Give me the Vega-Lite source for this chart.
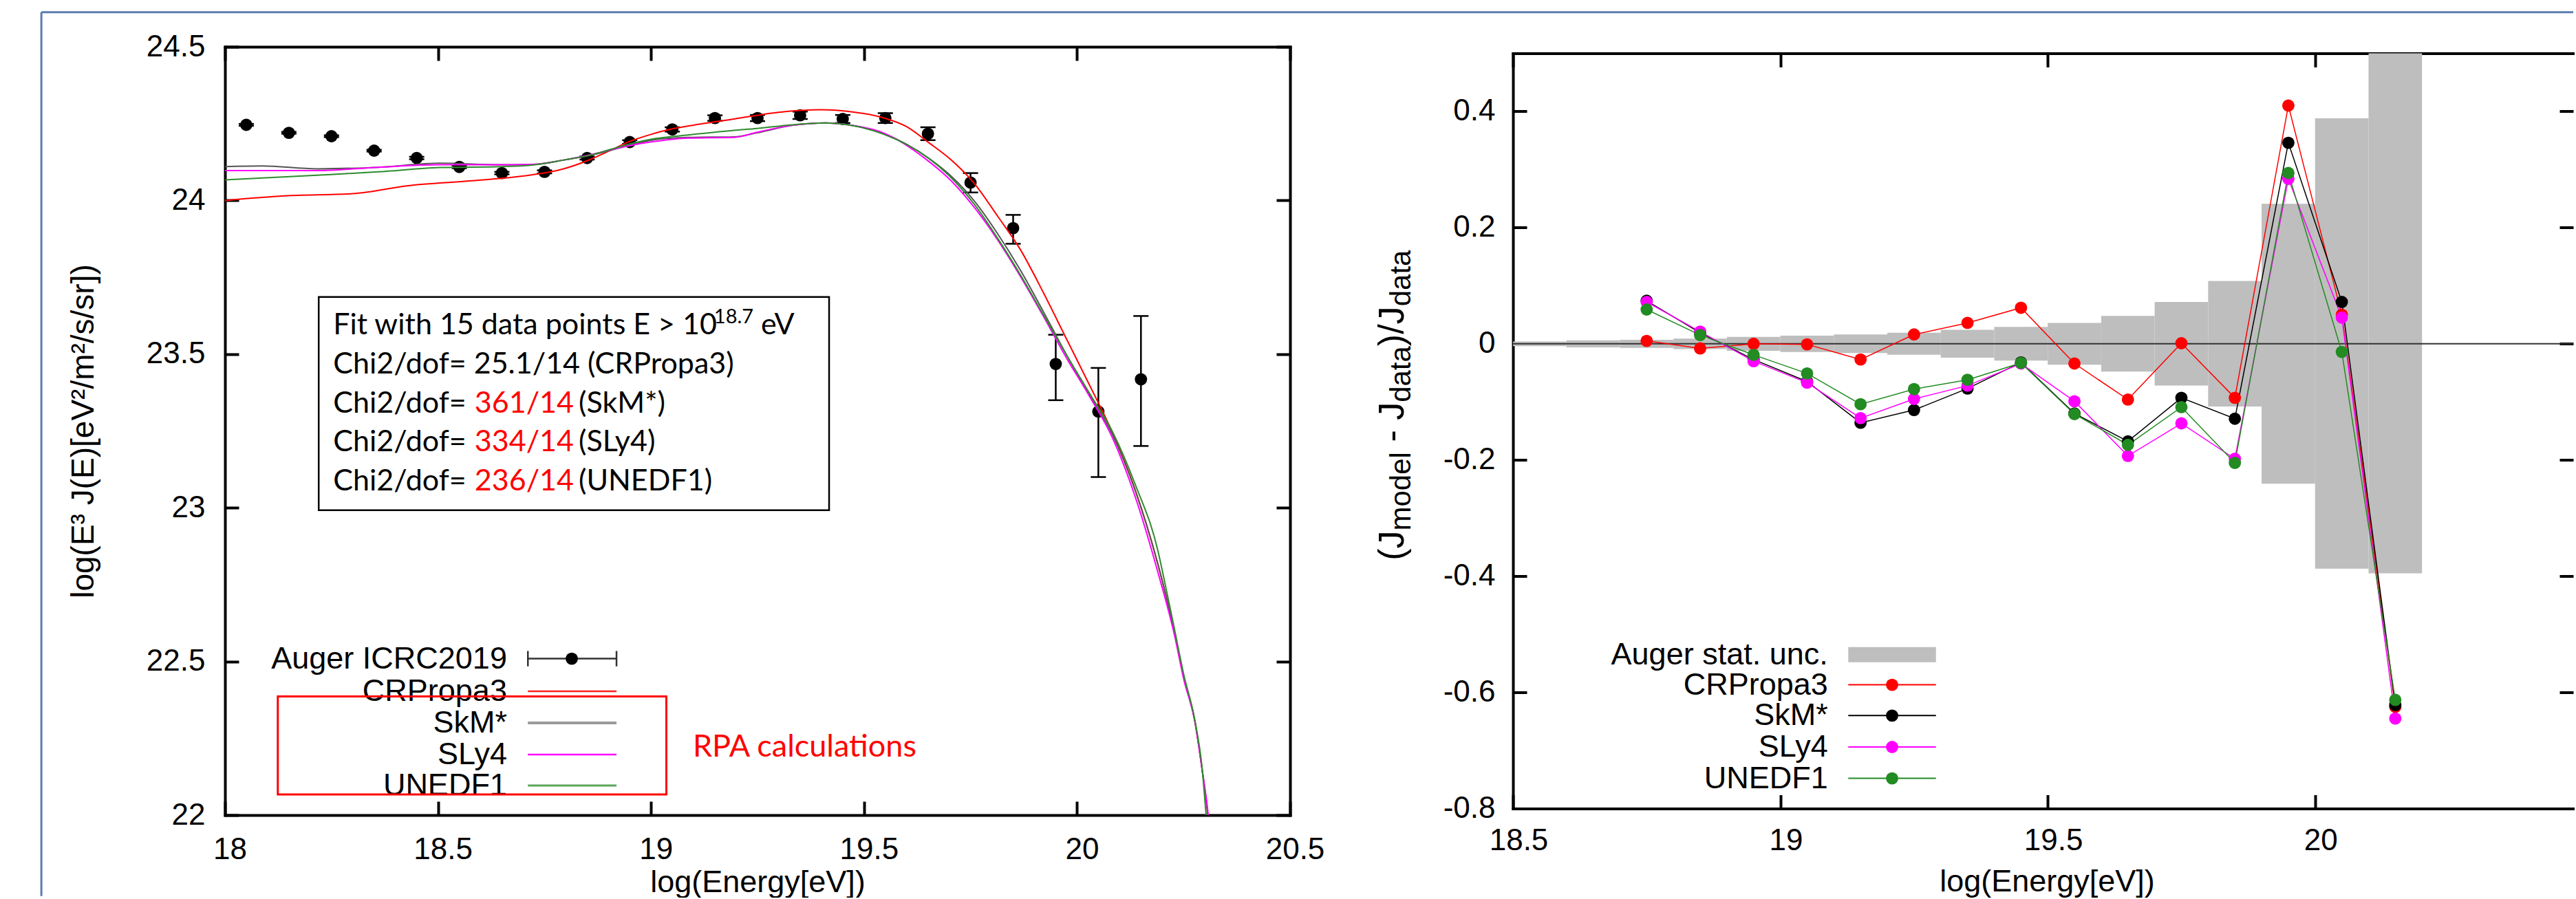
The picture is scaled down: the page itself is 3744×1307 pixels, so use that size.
{
 "$schema": "https://vega.github.io/schema/vega-lite/v6.json",
 "background": "white",
 "padding": {"left": 58, "top": 16, "right": 0, "bottom": 0},
 "bounds": "flush",
 "spacing": 324,
 "center": true,
 "resolve": {"scale": {"color": "independent"}},
 "config": {
  "font": "Liberation Sans",
  "view": {"stroke": null},
  "axis": {"grid": false, "domainColor": "black", "domainWidth": 4, "domainCap": "square", "tickColor": "black", "tickWidth": 4, "tickSize": -20, "labelFont": "Liberation Sans", "labelFontSize": 44, "labelColor": "black", "labelFlush": false, "labelOverlap": false, "labelBound": false, "titleFont": "Liberation Sans", "titleFontSize": 45, "titleFontWeight": "normal", "titleColor": "black"}
 },
 "datasets": {
  "auger": [
   {"e": 18.05, "f": 24.246, "lo": 24.243, "hi": 24.249},
   {"e": 18.15, "f": 24.220, "lo": 24.217, "hi": 24.223},
   {"e": 18.25, "f": 24.209, "lo": 24.206, "hi": 24.212},
   {"e": 18.35, "f": 24.162, "lo": 24.159, "hi": 24.165},
   {"e": 18.45, "f": 24.138, "lo": 24.134, "hi": 24.142},
   {"e": 18.55, "f": 24.109, "lo": 24.105, "hi": 24.113},
   {"e": 18.65, "f": 24.089, "lo": 24.085, "hi": 24.093},
   {"e": 18.75, "f": 24.093, "lo": 24.088, "hi": 24.098},
   {"e": 18.85, "f": 24.138, "lo": 24.133, "hi": 24.143},
   {"e": 18.95, "f": 24.190, "lo": 24.184, "hi": 24.196},
   {"e": 19.05, "f": 24.231, "lo": 24.224, "hi": 24.238},
   {"e": 19.15, "f": 24.268, "lo": 24.259, "hi": 24.277},
   {"e": 19.25, "f": 24.268, "lo": 24.258, "hi": 24.278},
   {"e": 19.35, "f": 24.277, "lo": 24.265, "hi": 24.289},
   {"e": 19.45, "f": 24.265, "lo": 24.252, "hi": 24.278},
   {"e": 19.55, "f": 24.268, "lo": 24.252, "hi": 24.284},
   {"e": 19.65, "f": 24.217, "lo": 24.196, "hi": 24.238},
   {"e": 19.75, "f": 24.058, "lo": 24.026, "hi": 24.089},
   {"e": 19.85, "f": 23.910, "lo": 23.859, "hi": 23.953},
   {"e": 19.95, "f": 23.468, "lo": 23.350, "hi": 23.563},
   {"e": 20.05, "f": 23.313, "lo": 23.100, "hi": 23.455},
   {"e": 20.15, "f": 23.418, "lo": 23.201, "hi": 23.624}
  ],
  "curves": [
   {"model": "CRPropa3", "e": 18.00, "f": 24.000},
   {"model": "CRPropa3", "e": 18.14, "f": 24.015},
   {"model": "CRPropa3", "e": 18.30, "f": 24.022},
   {"model": "CRPropa3", "e": 18.43, "f": 24.048},
   {"model": "CRPropa3", "e": 18.58, "f": 24.064},
   {"model": "CRPropa3", "e": 18.72, "f": 24.083},
   {"model": "CRPropa3", "e": 18.79, "f": 24.101},
   {"model": "CRPropa3", "e": 18.85, "f": 24.129},
   {"model": "CRPropa3", "e": 18.90, "f": 24.160},
   {"model": "CRPropa3", "e": 18.95, "f": 24.192},
   {"model": "CRPropa3", "e": 19.00, "f": 24.215},
   {"model": "CRPropa3", "e": 19.05, "f": 24.233},
   {"model": "CRPropa3", "e": 19.10, "f": 24.245},
   {"model": "CRPropa3", "e": 19.195, "f": 24.265},
   {"model": "CRPropa3", "e": 19.30, "f": 24.287},
   {"model": "CRPropa3", "e": 19.40, "f": 24.295},
   {"model": "CRPropa3", "e": 19.46, "f": 24.290},
   {"model": "CRPropa3", "e": 19.545, "f": 24.269},
   {"model": "CRPropa3", "e": 19.60, "f": 24.240},
   {"model": "CRPropa3", "e": 19.652, "f": 24.188},
   {"model": "CRPropa3", "e": 19.706, "f": 24.130},
   {"model": "CRPropa3", "e": 19.759, "f": 24.055},
   {"model": "CRPropa3", "e": 19.813, "f": 23.950},
   {"model": "CRPropa3", "e": 19.867, "f": 23.840},
   {"model": "CRPropa3", "e": 19.921, "f": 23.700},
   {"model": "CRPropa3", "e": 19.975, "f": 23.550},
   {"model": "CRPropa3", "e": 20.029, "f": 23.400},
   {"model": "CRPropa3", "e": 20.083, "f": 23.245},
   {"model": "CRPropa3", "e": 20.136, "f": 23.060},
   {"model": "CRPropa3", "e": 20.19, "f": 22.815},
   {"model": "CRPropa3", "e": 20.228, "f": 22.600},
   {"model": "CRPropa3", "e": 20.25, "f": 22.452},
   {"model": "CRPropa3", "e": 20.277, "f": 22.303},
   {"model": "CRPropa3", "e": 20.293, "f": 22.154},
   {"model": "CRPropa3", "e": 20.307, "f": 22.0},
   {"model": "CRPropa3", "e": 20.32, "f": 21.8},
   {"model": "SkM*", "e": 18.00, "f": 24.110},
   {"model": "SkM*", "e": 18.087, "f": 24.112},
   {"model": "SkM*", "e": 18.216, "f": 24.103},
   {"model": "SkM*", "e": 18.36, "f": 24.108},
   {"model": "SkM*", "e": 18.505, "f": 24.121},
   {"model": "SkM*", "e": 18.649, "f": 24.116},
   {"model": "SkM*", "e": 18.721, "f": 24.117},
   {"model": "SkM*", "e": 18.793, "f": 24.131},
   {"model": "SkM*", "e": 18.865, "f": 24.149},
   {"model": "SkM*", "e": 18.937, "f": 24.175},
   {"model": "SkM*", "e": 19.009, "f": 24.198},
   {"model": "SkM*", "e": 19.087, "f": 24.205},
   {"model": "SkM*", "e": 19.195, "f": 24.207},
   {"model": "SkM*", "e": 19.249, "f": 24.220},
   {"model": "SkM*", "e": 19.33, "f": 24.244},
   {"model": "SkM*", "e": 19.41, "f": 24.252},
   {"model": "SkM*", "e": 19.464, "f": 24.246},
   {"model": "SkM*", "e": 19.545, "f": 24.218},
   {"model": "SkM*", "e": 19.652, "f": 24.137},
   {"model": "SkM*", "e": 19.706, "f": 24.077},
   {"model": "SkM*", "e": 19.759, "f": 23.998},
   {"model": "SkM*", "e": 19.813, "f": 23.893},
   {"model": "SkM*", "e": 19.867, "f": 23.773},
   {"model": "SkM*", "e": 19.921, "f": 23.638},
   {"model": "SkM*", "e": 19.975, "f": 23.498},
   {"model": "SkM*", "e": 20.029, "f": 23.368},
   {"model": "SkM*", "e": 20.083, "f": 23.238},
   {"model": "SkM*", "e": 20.136, "f": 23.058},
   {"model": "SkM*", "e": 20.19, "f": 22.815},
   {"model": "SkM*", "e": 20.228, "f": 22.600},
   {"model": "SkM*", "e": 20.25, "f": 22.452},
   {"model": "SkM*", "e": 20.277, "f": 22.303},
   {"model": "SkM*", "e": 20.293, "f": 22.154},
   {"model": "SkM*", "e": 20.307, "f": 22.0},
   {"model": "SkM*", "e": 20.32, "f": 21.8},
   {"model": "SLy4", "e": 18.00, "f": 24.097},
   {"model": "SLy4", "e": 18.216, "f": 24.097},
   {"model": "SLy4", "e": 18.36, "f": 24.108},
   {"model": "SLy4", "e": 18.505, "f": 24.116},
   {"model": "SLy4", "e": 18.649, "f": 24.116},
   {"model": "SLy4", "e": 18.721, "f": 24.117},
   {"model": "SLy4", "e": 18.793, "f": 24.131},
   {"model": "SLy4", "e": 18.865, "f": 24.151},
   {"model": "SLy4", "e": 18.937, "f": 24.175},
   {"model": "SLy4", "e": 19.009, "f": 24.192},
   {"model": "SLy4", "e": 19.087, "f": 24.203},
   {"model": "SLy4", "e": 19.195, "f": 24.205},
   {"model": "SLy4", "e": 19.249, "f": 24.222},
   {"model": "SLy4", "e": 19.33, "f": 24.244},
   {"model": "SLy4", "e": 19.41, "f": 24.252},
   {"model": "SLy4", "e": 19.464, "f": 24.246},
   {"model": "SLy4", "e": 19.545, "f": 24.220},
   {"model": "SLy4", "e": 19.652, "f": 24.127},
   {"model": "SLy4", "e": 19.706, "f": 24.062},
   {"model": "SLy4", "e": 19.759, "f": 23.977},
   {"model": "SLy4", "e": 19.813, "f": 23.873},
   {"model": "SLy4", "e": 19.867, "f": 23.753},
   {"model": "SLy4", "e": 19.921, "f": 23.623},
   {"model": "SLy4", "e": 19.975, "f": 23.488},
   {"model": "SLy4", "e": 20.029, "f": 23.363},
   {"model": "SLy4", "e": 20.083, "f": 23.228},
   {"model": "SLy4", "e": 20.136, "f": 23.038},
   {"model": "SLy4", "e": 20.19, "f": 22.789},
   {"model": "SLy4", "e": 20.228, "f": 22.590},
   {"model": "SLy4", "e": 20.25, "f": 22.445},
   {"model": "SLy4", "e": 20.277, "f": 22.300},
   {"model": "SLy4", "e": 20.293, "f": 22.154},
   {"model": "SLy4", "e": 20.308, "f": 22.0},
   {"model": "SLy4", "e": 20.32, "f": 21.8},
   {"model": "UNEDF1", "e": 18.00, "f": 24.067},
   {"model": "UNEDF1", "e": 18.216, "f": 24.082},
   {"model": "UNEDF1", "e": 18.36, "f": 24.093},
   {"model": "UNEDF1", "e": 18.505, "f": 24.107},
   {"model": "UNEDF1", "e": 18.649, "f": 24.110},
   {"model": "UNEDF1", "e": 18.721, "f": 24.115},
   {"model": "UNEDF1", "e": 18.793, "f": 24.131},
   {"model": "UNEDF1", "e": 18.865, "f": 24.150},
   {"model": "UNEDF1", "e": 18.937, "f": 24.179},
   {"model": "UNEDF1", "e": 19.009, "f": 24.201},
   {"model": "UNEDF1", "e": 19.087, "f": 24.213},
   {"model": "UNEDF1", "e": 19.195, "f": 24.228},
   {"model": "UNEDF1", "e": 19.249, "f": 24.234},
   {"model": "UNEDF1", "e": 19.33, "f": 24.246},
   {"model": "UNEDF1", "e": 19.41, "f": 24.252},
   {"model": "UNEDF1", "e": 19.464, "f": 24.246},
   {"model": "UNEDF1", "e": 19.545, "f": 24.216},
   {"model": "UNEDF1", "e": 19.652, "f": 24.137},
   {"model": "UNEDF1", "e": 19.706, "f": 24.072},
   {"model": "UNEDF1", "e": 19.759, "f": 23.987},
   {"model": "UNEDF1", "e": 19.813, "f": 23.878},
   {"model": "UNEDF1", "e": 19.867, "f": 23.758},
   {"model": "UNEDF1", "e": 19.921, "f": 23.628},
   {"model": "UNEDF1", "e": 19.975, "f": 23.498},
   {"model": "UNEDF1", "e": 20.029, "f": 23.373},
   {"model": "UNEDF1", "e": 20.083, "f": 23.248},
   {"model": "UNEDF1", "e": 20.136, "f": 23.078},
   {"model": "UNEDF1", "e": 20.19, "f": 22.859},
   {"model": "UNEDF1", "e": 20.207, "f": 22.750},
   {"model": "UNEDF1", "e": 20.228, "f": 22.610},
   {"model": "UNEDF1", "e": 20.25, "f": 22.460},
   {"model": "UNEDF1", "e": 20.277, "f": 22.305},
   {"model": "UNEDF1", "e": 20.293, "f": 22.160},
   {"model": "UNEDF1", "e": 20.303, "f": 22.0},
   {"model": "UNEDF1", "e": 20.32, "f": 21.75}
  ],
  "ratio": [
   {"model": "CRPropa3", "e": 18.75, "r": 0.005}, {"model": "CRPropa3", "e": 18.85, "r": -0.008}, {"model": "CRPropa3", "e": 18.95, "r": 0.0}, {"model": "CRPropa3", "e": 19.05, "r": -0.001}, {"model": "CRPropa3", "e": 19.15, "r": -0.027}, {"model": "CRPropa3", "e": 19.25, "r": 0.016}, {"model": "CRPropa3", "e": 19.35, "r": 0.036}, {"model": "CRPropa3", "e": 19.45, "r": 0.062}, {"model": "CRPropa3", "e": 19.55, "r": -0.034}, {"model": "CRPropa3", "e": 19.65, "r": -0.096}, {"model": "CRPropa3", "e": 19.75, "r": 0.001}, {"model": "CRPropa3", "e": 19.85, "r": -0.093}, {"model": "CRPropa3", "e": 19.95, "r": 0.410}, {"model": "CRPropa3", "e": 20.05, "r": 0.050}, {"model": "CRPropa3", "e": 20.15, "r": -0.625},
   {"model": "SkM*", "e": 18.75, "r": 0.074}, {"model": "SkM*", "e": 18.85, "r": 0.019}, {"model": "SkM*", "e": 18.95, "r": -0.027}, {"model": "SkM*", "e": 19.05, "r": -0.065}, {"model": "SkM*", "e": 19.15, "r": -0.136}, {"model": "SkM*", "e": 19.25, "r": -0.114}, {"model": "SkM*", "e": 19.35, "r": -0.077}, {"model": "SkM*", "e": 19.45, "r": -0.032}, {"model": "SkM*", "e": 19.55, "r": -0.120}, {"model": "SkM*", "e": 19.65, "r": -0.168}, {"model": "SkM*", "e": 19.75, "r": -0.093}, {"model": "SkM*", "e": 19.85, "r": -0.129}, {"model": "SkM*", "e": 19.95, "r": 0.346}, {"model": "SkM*", "e": 20.05, "r": 0.072}, {"model": "SkM*", "e": 20.15, "r": -0.622},
   {"model": "SLy4", "e": 18.75, "r": 0.072}, {"model": "SLy4", "e": 18.85, "r": 0.021}, {"model": "SLy4", "e": 18.95, "r": -0.030}, {"model": "SLy4", "e": 19.05, "r": -0.067}, {"model": "SLy4", "e": 19.15, "r": -0.128}, {"model": "SLy4", "e": 19.25, "r": -0.095}, {"model": "SLy4", "e": 19.35, "r": -0.072}, {"model": "SLy4", "e": 19.45, "r": -0.034}, {"model": "SLy4", "e": 19.55, "r": -0.099}, {"model": "SLy4", "e": 19.65, "r": -0.193}, {"model": "SLy4", "e": 19.75, "r": -0.137}, {"model": "SLy4", "e": 19.85, "r": -0.198}, {"model": "SLy4", "e": 19.95, "r": 0.284}, {"model": "SLy4", "e": 20.05, "r": 0.045}, {"model": "SLy4", "e": 20.15, "r": -0.645},
   {"model": "UNEDF1", "e": 18.75, "r": 0.059}, {"model": "UNEDF1", "e": 18.85, "r": 0.015}, {"model": "UNEDF1", "e": 18.95, "r": -0.019}, {"model": "UNEDF1", "e": 19.05, "r": -0.051}, {"model": "UNEDF1", "e": 19.15, "r": -0.104}, {"model": "UNEDF1", "e": 19.25, "r": -0.078}, {"model": "UNEDF1", "e": 19.35, "r": -0.062}, {"model": "UNEDF1", "e": 19.45, "r": -0.033}, {"model": "UNEDF1", "e": 19.55, "r": -0.121}, {"model": "UNEDF1", "e": 19.65, "r": -0.174}, {"model": "UNEDF1", "e": 19.75, "r": -0.109}, {"model": "UNEDF1", "e": 19.85, "r": -0.205}, {"model": "UNEDF1", "e": 19.95, "r": 0.294}, {"model": "UNEDF1", "e": 20.05, "r": -0.014}, {"model": "UNEDF1", "e": 20.15, "r": -0.613}
  ],
  "band": [
   {"x0": 18.5, "x1": 18.6, "lo": -0.004, "hi": 0.004},
   {"x0": 18.6, "x1": 18.7, "lo": -0.006, "hi": 0.006},
   {"x0": 18.7, "x1": 18.8, "lo": -0.007, "hi": 0.007},
   {"x0": 18.8, "x1": 18.9, "lo": -0.009, "hi": 0.009},
   {"x0": 18.9, "x1": 19.0, "lo": -0.012, "hi": 0.012},
   {"x0": 19.0, "x1": 19.1, "lo": -0.014, "hi": 0.014},
   {"x0": 19.1, "x1": 19.2, "lo": -0.016, "hi": 0.016},
   {"x0": 19.2, "x1": 19.3, "lo": -0.019, "hi": 0.019},
   {"x0": 19.3, "x1": 19.4, "lo": -0.024, "hi": 0.024},
   {"x0": 19.4, "x1": 19.5, "lo": -0.029, "hi": 0.029},
   {"x0": 19.5, "x1": 19.6, "lo": -0.036, "hi": 0.036},
   {"x0": 19.6, "x1": 19.7, "lo": -0.048, "hi": 0.048},
   {"x0": 19.7, "x1": 19.8, "lo": -0.072, "hi": 0.072},
   {"x0": 19.8, "x1": 19.9, "lo": -0.108, "hi": 0.108},
   {"x0": 19.9, "x1": 20.0, "lo": -0.241, "hi": 0.241},
   {"x0": 20.0, "x1": 20.1, "lo": -0.387, "hi": 0.388},
   {"x0": 20.1, "x1": 20.2, "lo": -0.395, "hi": 0.65}
  ]
 },
 "hconcat": [
  {
   "width": 1548,
   "height": 1117,
   "data": {"values": [{}]},
   "layer": [
    {"mark": {"type": "rule", "color": "#5b7db1", "strokeWidth": 3}, "encoding": {"x": {"datum": 17.569, "axis": null}, "y": {"datum": 24.6126, "axis": null}, "y2": {"datum": 21.7366}}},
    {"mark": {"type": "rule", "color": "#5b7db1", "strokeWidth": 3}, "encoding": {"x": {"datum": 17.569, "axis": null}, "x2": {"datum": 23.512}, "y": {"datum": 24.6126, "axis": null}}},
    {
     "data": {"name": "auger"},
     "mark": {"type": "circle", "size": 320, "color": "black", "opacity": 1},
     "encoding": {
      "x": {"field": "e", "type": "quantitative", "scale": {"domain": [18, 20.5], "nice": false, "zero": false},
            "axis": {"orient": "bottom", "values": [18, 18.5, 19, 19.5, 20, 20.5], "labelExpr": "'' + datum.value", "labelPadding": 48, "labelOffset": 7, "title": "log(Energy[eV])", "titleX": 774, "titleY": 75, "titleBaseline": "top", "titleAlign": "center", "titleAnchor": null}},
      "y": {"field": "f", "type": "quantitative", "scale": {"domain": [22, 24.5], "nice": false, "zero": false},
            "axis": {"orient": "left", "values": [22, 22.5, 23, 23.5, 24, 24.5], "labelExpr": "'' + datum.value", "labelPadding": 49, "title": "log(E³ J(E)[eV²/m²/s/sr])", "titleFontSize": 46, "titleX": -182, "titleY": 558.5, "titleAlign": "center", "titleAnchor": null}}
     }
    },
    {
     "data": {"name": "auger"},
     "mark": {"type": "rule", "color": "black", "strokeWidth": 2.5},
     "encoding": {
      "x": {"field": "e", "type": "quantitative", "axis": {"orient": "top", "values": [18, 18.5, 19, 19.5, 20, 20.5], "labels": false, "title": null}},
      "y": {"field": "lo", "type": "quantitative", "axis": {"orient": "right", "values": [22, 22.5, 23, 23.5, 24, 24.5], "labels": false, "title": null}},
      "y2": {"field": "hi"}
     }
    },
    {"data": {"name": "auger"}, "mark": {"type": "tick", "orient": "horizontal", "size": 22, "thickness": 2.5, "color": "black", "opacity": 1}, "encoding": {"x": {"field": "e", "type": "quantitative", "axis": null}, "y": {"field": "lo", "type": "quantitative", "axis": null}}},
    {"data": {"name": "auger"}, "mark": {"type": "tick", "orient": "horizontal", "size": 22, "thickness": 2.5, "color": "black", "opacity": 1}, "encoding": {"x": {"field": "e", "type": "quantitative", "axis": null}, "y": {"field": "hi", "type": "quantitative", "axis": null}}},
    {
     "data": {"name": "curves"},
     "mark": {"type": "line", "strokeWidth": 2, "interpolate": "monotone", "clip": true},
     "encoding": {
      "x": {"field": "e", "type": "quantitative", "axis": null},
      "y": {"field": "f", "type": "quantitative", "axis": null},
      "color": {"field": "model", "type": "nominal", "scale": {"domain": ["CRPropa3", "SkM*", "SLy4", "UNEDF1"], "range": ["#ff0000", "#555555", "#ff00ff", "#2e8b2e"]}, "legend": null}
     }
    },
    {"mark": {"type": "rect", "fill": "white", "stroke": "black", "strokeWidth": 2.5}, "encoding": {"x": {"datum": 18.220, "axis": null}, "x2": {"datum": 19.418}, "y": {"datum": 23.686, "axis": null}, "y2": {"datum": 22.992}}},
    {"mark": {"type": "text", "text": "Fit with 15 data points E > 10", "align": "left", "baseline": "middle", "font": "Lato", "fontSize": 43, "color": "black"}, "encoding": {"x": {"datum": 18.254, "axis": null}, "y": {"datum": 23.594, "axis": null}}},
    {"mark": {"type": "text", "text": "18.7", "align": "left", "baseline": "middle", "font": "Lato", "fontSize": 29, "color": "black"}, "encoding": {"x": {"datum": 19.148, "axis": null}, "y": {"datum": 23.621, "axis": null}}},
    {"mark": {"type": "text", "text": "eV", "align": "left", "baseline": "middle", "font": "Lato", "fontSize": 43, "color": "black"}, "encoding": {"x": {"datum": 19.258, "axis": null}, "y": {"datum": 23.594, "axis": null}}},
    {"mark": {"type": "text", "text": "Chi2/dof= 25.1/14 (CRPropa3)", "align": "left", "baseline": "middle", "font": "Lato", "fontSize": 43, "color": "black"}, "encoding": {"x": {"datum": 18.254, "axis": null}, "y": {"datum": 23.466, "axis": null}}},
    {"mark": {"type": "text", "text": "Chi2/dof=", "align": "left", "baseline": "middle", "font": "Lato", "fontSize": 43, "color": "black"}, "encoding": {"x": {"datum": 18.254, "axis": null}, "y": {"datum": 23.339, "axis": null}}},
    {"mark": {"type": "text", "text": "361/14", "align": "left", "baseline": "middle", "font": "Lato", "fontSize": 43, "color": "#ff0000"}, "encoding": {"x": {"datum": 18.586, "axis": null}, "y": {"datum": 23.339, "axis": null}}},
    {"mark": {"type": "text", "text": "(SkM*)", "align": "left", "baseline": "middle", "font": "Lato", "fontSize": 43, "color": "black"}, "encoding": {"x": {"datum": 18.830, "axis": null}, "y": {"datum": 23.339, "axis": null}}},
    {"mark": {"type": "text", "text": "Chi2/dof=", "align": "left", "baseline": "middle", "font": "Lato", "fontSize": 43, "color": "black"}, "encoding": {"x": {"datum": 18.254, "axis": null}, "y": {"datum": 23.213, "axis": null}}},
    {"mark": {"type": "text", "text": "334/14", "align": "left", "baseline": "middle", "font": "Lato", "fontSize": 43, "color": "#ff0000"}, "encoding": {"x": {"datum": 18.586, "axis": null}, "y": {"datum": 23.213, "axis": null}}},
    {"mark": {"type": "text", "text": "(SLy4)", "align": "left", "baseline": "middle", "font": "Lato", "fontSize": 43, "color": "black"}, "encoding": {"x": {"datum": 18.830, "axis": null}, "y": {"datum": 23.213, "axis": null}}},
    {"mark": {"type": "text", "text": "Chi2/dof=", "align": "left", "baseline": "middle", "font": "Lato", "fontSize": 43, "color": "black"}, "encoding": {"x": {"datum": 18.254, "axis": null}, "y": {"datum": 23.086, "axis": null}}},
    {"mark": {"type": "text", "text": "236/14", "align": "left", "baseline": "middle", "font": "Lato", "fontSize": 43, "color": "#ff0000"}, "encoding": {"x": {"datum": 18.586, "axis": null}, "y": {"datum": 23.086, "axis": null}}},
    {"mark": {"type": "text", "text": "(UNEDF1)", "align": "left", "baseline": "middle", "font": "Lato", "fontSize": 43, "color": "black"}, "encoding": {"x": {"datum": 18.830, "axis": null}, "y": {"datum": 23.086, "axis": null}}},
    {"mark": {"type": "text", "text": "Auger ICRC2019", "align": "right", "baseline": "middle", "fontSize": 45, "color": "black"}, "encoding": {"x": {"datum": 18.662, "axis": null}, "y": {"datum": 22.509, "axis": null}}},
    {"mark": {"type": "text", "text": "CRPropa3", "align": "right", "baseline": "middle", "fontSize": 45, "color": "black"}, "encoding": {"x": {"datum": 18.662, "axis": null}, "y": {"datum": 22.403, "axis": null}}},
    {"mark": {"type": "text", "text": "SkM*", "align": "right", "baseline": "middle", "fontSize": 45, "color": "black"}, "encoding": {"x": {"datum": 18.662, "axis": null}, "y": {"datum": 22.300, "axis": null}}},
    {"mark": {"type": "text", "text": "SLy4", "align": "right", "baseline": "middle", "fontSize": 45, "color": "black"}, "encoding": {"x": {"datum": 18.662, "axis": null}, "y": {"datum": 22.197, "axis": null}}},
    {"mark": {"type": "text", "text": "UNEDF1", "align": "right", "baseline": "middle", "fontSize": 45, "color": "black"}, "encoding": {"x": {"datum": 18.662, "axis": null}, "y": {"datum": 22.096, "axis": null}}},
    {"mark": {"type": "rule", "color": "#333333", "strokeWidth": 2.5}, "encoding": {"x": {"datum": 18.711, "axis": null}, "x2": {"datum": 18.919}, "y": {"datum": 22.509, "axis": null}}},
    {"mark": {"type": "rule", "color": "#333333", "strokeWidth": 2.5}, "encoding": {"x": {"datum": 18.711, "axis": null}, "y": {"datum": 22.484, "axis": null}, "y2": {"datum": 22.534}}},
    {"mark": {"type": "rule", "color": "#333333", "strokeWidth": 2.5}, "encoding": {"x": {"datum": 18.919, "axis": null}, "y": {"datum": 22.484, "axis": null}, "y2": {"datum": 22.534}}},
    {"mark": {"type": "circle", "size": 320, "color": "black", "opacity": 1}, "encoding": {"x": {"datum": 18.814, "axis": null}, "y": {"datum": 22.509, "axis": null}}},
    {"mark": {"type": "rule", "color": "#ff2020", "strokeWidth": 2.5}, "encoding": {"x": {"datum": 18.711, "axis": null}, "x2": {"datum": 18.919}, "y": {"datum": 22.403, "axis": null}}},
    {"mark": {"type": "rule", "color": "#9a9a9a", "strokeWidth": 4}, "encoding": {"x": {"datum": 18.711, "axis": null}, "x2": {"datum": 18.919}, "y": {"datum": 22.300, "axis": null}}},
    {"mark": {"type": "rule", "color": "#ff00ff", "strokeWidth": 2.5}, "encoding": {"x": {"datum": 18.711, "axis": null}, "x2": {"datum": 18.919}, "y": {"datum": 22.197, "axis": null}}},
    {"mark": {"type": "rule", "color": "#5aa65a", "strokeWidth": 3}, "encoding": {"x": {"datum": 18.711, "axis": null}, "x2": {"datum": 18.919}, "y": {"datum": 22.096, "axis": null}}},
    {"mark": {"type": "rect", "filled": false, "color": "#ff0000", "strokeWidth": 3, "opacity": 1}, "encoding": {"x": {"datum": 18.124, "axis": null}, "x2": {"datum": 19.036}, "y": {"datum": 22.386, "axis": null}, "y2": {"datum": 22.067}}},
    {"mark": {"type": "text", "text": "RPA calculations", "align": "left", "baseline": "middle", "font": "Lato", "fontSize": 45, "color": "#ff0000"}, "encoding": {"x": {"datum": 19.098, "axis": null}, "y": {"datum": 22.222, "axis": null}}}
   ]
  },
  {
   "width": 1541,
   "height": 1098,
   "data": {"values": [{}]},
   "layer": [
    {
     "data": {"name": "band"},
     "mark": {"type": "rect", "color": "#bebebe", "opacity": 1, "clip": true},
     "encoding": {
      "x": {"field": "x0", "type": "quantitative", "scale": {"domain": [18.5, 20.4828], "nice": false, "zero": false},
            "axis": {"orient": "bottom", "values": [18.5, 19, 19.5, 20], "labelExpr": "'' + datum.value", "labelPadding": 45, "labelOffset": 8, "title": "log(Energy[eV])", "titleX": 776, "titleY": 84, "titleBaseline": "top", "titleAlign": "center", "titleAnchor": null}},
      "x2": {"field": "x1"},
      "y": {"field": "lo", "type": "quantitative", "scale": {"domain": [-0.8, 0.5], "nice": false, "zero": false},
            "axis": {"orient": "left", "values": [-0.8, -0.6, -0.4, -0.2, 0, 0.2, 0.4], "labelExpr": "'' + datum.value", "labelPadding": 46, "title": null}},
      "y2": {"field": "hi"}
     }
    },
    {"mark": {"type": "rule", "color": "#333333", "strokeWidth": 2}, "encoding": {"y": {"datum": 0, "axis": null}}},
    {
     "data": {"name": "ratio"},
     "mark": {"type": "line", "strokeWidth": 1.5, "clip": true},
     "encoding": {
      "x": {"field": "e", "type": "quantitative", "axis": {"orient": "top", "values": [18.5, 19, 19.5, 20], "labels": false, "title": null}},
      "y": {"field": "r", "type": "quantitative", "axis": {"orient": "right", "values": [-0.8, -0.6, -0.4, -0.2, 0, 0.2, 0.4], "labels": false, "domain": false, "title": null}},
      "color": {"field": "model", "type": "nominal", "scale": {"domain": ["CRPropa3", "SkM*", "SLy4", "UNEDF1"], "range": ["#ff0000", "#000000", "#ff00ff", "#228b22"]}, "legend": null}
     }
    },
    {
     "data": {"name": "ratio"},
     "mark": {"type": "circle", "size": 320, "opacity": 1},
     "encoding": {
      "x": {"field": "e", "type": "quantitative", "axis": null},
      "y": {"field": "r", "type": "quantitative", "axis": null},
      "color": {"field": "model", "type": "nominal", "scale": {"domain": ["CRPropa3", "SkM*", "SLy4", "UNEDF1"], "range": ["#ff0000", "#000000", "#ff00ff", "#228b22"]}, "legend": null}
     }
    },
    {"mark": {"type": "text", "text": "Auger stat. unc.", "align": "right", "baseline": "middle", "fontSize": 45, "color": "black"}, "encoding": {"x": {"datum": 19.089, "axis": null}, "y": {"datum": -0.535, "axis": null}}},
    {"mark": {"type": "text", "text": "CRPropa3", "align": "right", "baseline": "middle", "fontSize": 45, "color": "black"}, "encoding": {"x": {"datum": 19.089, "axis": null}, "y": {"datum": -0.587, "axis": null}}},
    {"mark": {"type": "text", "text": "SkM*", "align": "right", "baseline": "middle", "fontSize": 45, "color": "black"}, "encoding": {"x": {"datum": 19.089, "axis": null}, "y": {"datum": -0.640, "axis": null}}},
    {"mark": {"type": "text", "text": "SLy4", "align": "right", "baseline": "middle", "fontSize": 45, "color": "black"}, "encoding": {"x": {"datum": 19.089, "axis": null}, "y": {"datum": -0.694, "axis": null}}},
    {"mark": {"type": "text", "text": "UNEDF1", "align": "right", "baseline": "middle", "fontSize": 45, "color": "black"}, "encoding": {"x": {"datum": 19.089, "axis": null}, "y": {"datum": -0.748, "axis": null}}},
    {"mark": {"type": "rect", "color": "#bebebe", "opacity": 1}, "encoding": {"x": {"datum": 19.127, "axis": null}, "x2": {"datum": 19.291}, "y": {"datum": -0.522, "axis": null}, "y2": {"datum": -0.548}}},
    {"mark": {"type": "rule", "color": "#ff0000", "strokeWidth": 2}, "encoding": {"x": {"datum": 19.127, "axis": null}, "x2": {"datum": 19.291}, "y": {"datum": -0.587, "axis": null}}},
    {"mark": {"type": "rule", "color": "#000000", "strokeWidth": 2}, "encoding": {"x": {"datum": 19.127, "axis": null}, "x2": {"datum": 19.291}, "y": {"datum": -0.640, "axis": null}}},
    {"mark": {"type": "rule", "color": "#ff00ff", "strokeWidth": 2}, "encoding": {"x": {"datum": 19.127, "axis": null}, "x2": {"datum": 19.291}, "y": {"datum": -0.694, "axis": null}}},
    {"mark": {"type": "rule", "color": "#228b22", "strokeWidth": 2}, "encoding": {"x": {"datum": 19.127, "axis": null}, "x2": {"datum": 19.291}, "y": {"datum": -0.748, "axis": null}}},
    {"mark": {"type": "circle", "size": 320, "color": "#ff0000", "opacity": 1}, "encoding": {"x": {"datum": 19.209, "axis": null}, "y": {"datum": -0.587, "axis": null}}},
    {"mark": {"type": "circle", "size": 320, "color": "#000000", "opacity": 1}, "encoding": {"x": {"datum": 19.209, "axis": null}, "y": {"datum": -0.640, "axis": null}}},
    {"mark": {"type": "circle", "size": 320, "color": "#ff00ff", "opacity": 1}, "encoding": {"x": {"datum": 19.209, "axis": null}, "y": {"datum": -0.694, "axis": null}}},
    {"mark": {"type": "circle", "size": 320, "color": "#228b22", "opacity": 1}, "encoding": {"x": {"datum": 19.209, "axis": null}, "y": {"datum": -0.748, "axis": null}}},
    {"mark": {"type": "text", "text": "(J", "angle": 270, "align": "left", "baseline": "alphabetic", "fontSize": 52, "color": "black"}, "encoding": {"x": {"datum": 18.2954, "axis": null}, "y": {"datum": -0.3729, "axis": null}}},
    {"mark": {"type": "text", "text": "model", "angle": 270, "align": "left", "baseline": "alphabetic", "fontSize": 42, "color": "black"}, "encoding": {"x": {"datum": 18.3083, "axis": null}, "y": {"datum": -0.3217, "axis": null}}},
    {"mark": {"type": "text", "text": "- J", "angle": 270, "align": "left", "baseline": "alphabetic", "fontSize": 52, "color": "black"}, "encoding": {"x": {"datum": 18.2954, "axis": null}, "y": {"datum": -0.1690, "axis": null}}},
    {"mark": {"type": "text", "text": "data", "angle": 270, "align": "left", "baseline": "alphabetic", "fontSize": 42, "color": "black"}, "encoding": {"x": {"datum": 18.3083, "axis": null}, "y": {"datum": -0.1007, "axis": null}}},
    {"mark": {"type": "text", "text": ")/J", "angle": 270, "align": "left", "baseline": "alphabetic", "fontSize": 52, "color": "black"}, "encoding": {"x": {"datum": 18.2954, "axis": null}, "y": {"datum": -0.0040, "axis": null}}},
    {"mark": {"type": "text", "text": "data", "angle": 270, "align": "left", "baseline": "alphabetic", "fontSize": 42, "color": "black"}, "encoding": {"x": {"datum": 18.3083, "axis": null}, "y": {"datum": 0.0645, "axis": null}}}
   ]
  }
 ]
}
